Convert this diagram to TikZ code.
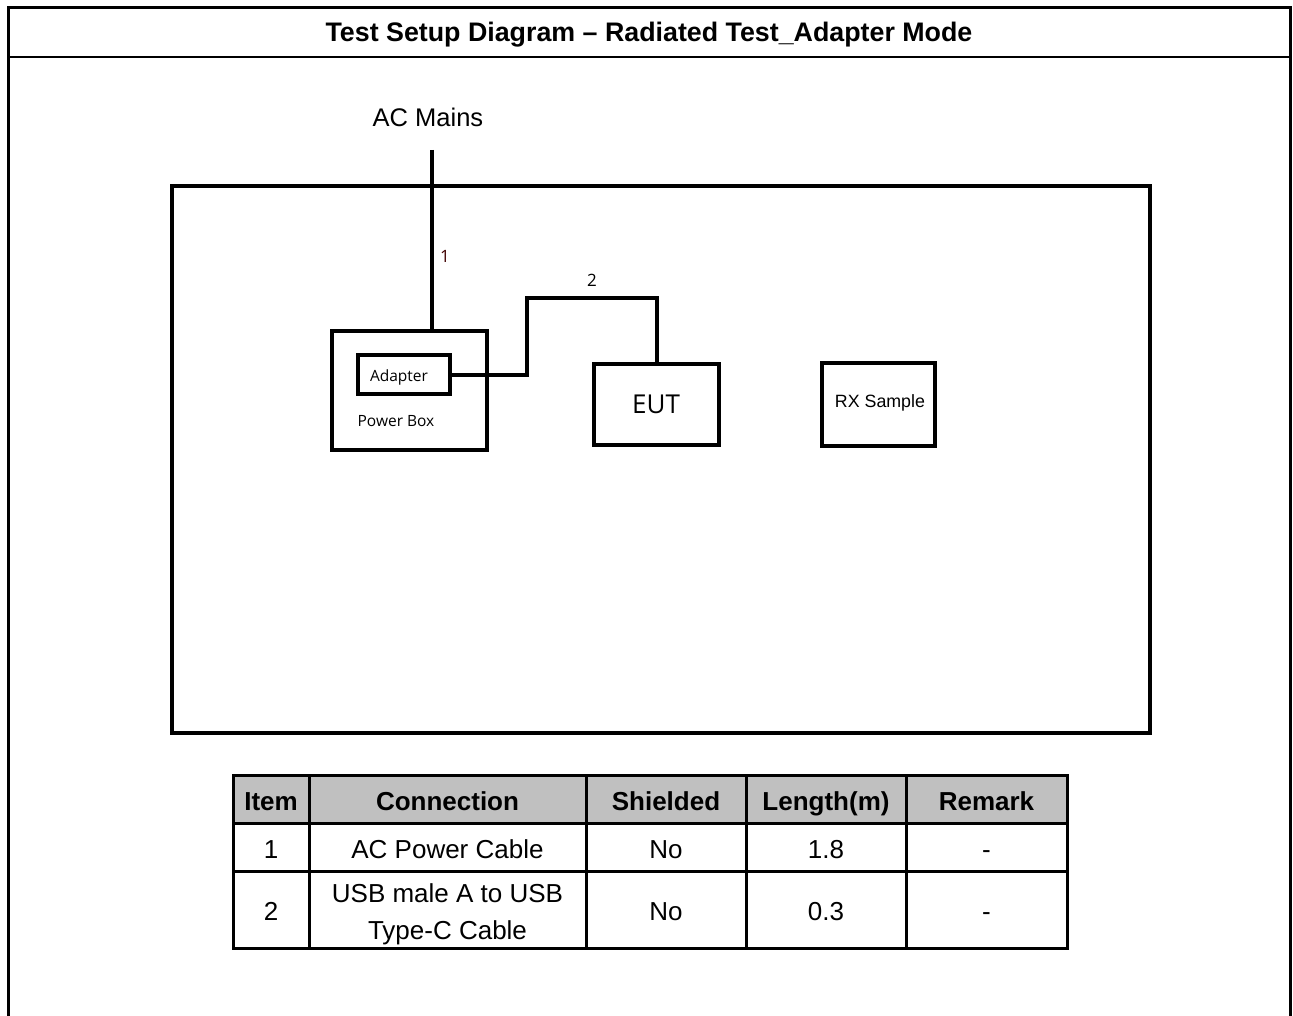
\documentclass[tikz,border=0pt]{standalone}
\usepackage{fontspec}
\setmainfont{Liberation Sans}
\newfontfamily\segoe{Open Sans}
\usetikzlibrary{positioning}
\definecolor{hdrgray}{HTML}{C0C0C0}
\definecolor{lblbrown}{HTML}{400000}
\tikzset{
  frameline/.style={line width=3pt, line cap=rect},
  box/.style={draw=black, line width=4pt, inner sep=0pt},
  cable/.style={line width=4pt},
  cell/.style={draw=black, line width=3pt, inner sep=0pt},
  hdrcell/.style={cell, fill=hdrgray},
  hdr/.style={anchor=base, inner sep=0pt, font=\fontsize{26}{30}\selectfont\bfseries},
  body/.style={anchor=base, inner sep=0pt, font=\fontsize{26}{30}\selectfont},
  small/.style={font=\segoe\fontsize{15.5}{18}\selectfont},
}
\begin{document}
\begin{tikzpicture}[x=1pt,y=-1pt]
\useasboundingbox (0,0) rectangle (1293,1016);
% outer frame
\coordinate (tl) at (8,8);
\coordinate (tr) at (1290,8);
\coordinate (bl) at (8,1016);
\coordinate (br) at (1290,1016);
\draw[frameline] (bl) -- (tl) -- (tr) -- (br);
\coordinate (sl) at (8,57);
\coordinate (sr) at (1290,57);
\draw[line width=2pt] (sl) -- (sr);
\node[anchor=base, inner sep=0pt, font=\fontsize{26.8}{30}\selectfont\bfseries] (title) at (649,42) {Test Setup Diagram – Radiated Test\_Adapter Mode};
% chamber box
\node[box, minimum width=978pt, minimum height=547pt] (room) at (661,459.5) {};
% AC mains
\node[anchor=base, inner sep=0pt, font=\fontsize{25.5}{30}\selectfont] (acmains) at (428,127) {AC Mains};
\coordinate (acm) at (432,150);
% power box
\node[box, minimum width=155pt, minimum height=119pt] (pbox) at (409.5,390.5) {};
\node[box, minimum width=92pt, minimum height=39pt] (adapter) at (404,374.5) {};
\node[small] (adaptertxt) at (399,377) {Adapter};
\node[small] (pboxtxt) at (396,421) {Power Box};
% EUT
\node[box, minimum width=125pt, minimum height=81pt] (eut) at (656.5,404.5) {};
\node[anchor=base, inner sep=0pt, font=\segoe\fontsize{26}{30}\selectfont] (euttxt) at (656,413) {EUT};
% RX sample
\node[box, minimum width=113pt, minimum height=83pt] (rx) at (878.5,404.5) {};
\node[anchor=base, inner sep=0pt, font=\fontsize{17.8}{20}\selectfont] (rxtxt) at (880,407.5) {RX Sample};
% cables
\draw[cable] (acm) -- (acm |- pbox.north);
\node[small, font=\segoe\fontsize{17}{20}\selectfont, text=lblbrown] (lbl1) at (445,256) {1};
\coordinate (c2a) at (527,374.5);
\coordinate (c2b) at (527,298);
\coordinate (c2c) at (657,298);
\draw[cable] (adapter.east) -- (c2a) -- (c2b) -- (c2c) -- (c2c |- eut.north);
\node[small, font=\segoe\fontsize{17}{20}\selectfont] (lbl2) at (592,280) {2};
% table cells
\node[hdrcell, minimum width=76pt, minimum height=48pt] (h1) at (271,799) {};
\node[hdrcell, minimum width=277pt, minimum height=48pt] (h2) at (447.5,799) {};
\node[hdrcell, minimum width=160pt, minimum height=48pt] (h3) at (666,799) {};
\node[hdrcell, minimum width=160pt, minimum height=48pt] (h4) at (826,799) {};
\node[hdrcell, minimum width=161pt, minimum height=48pt] (h5) at (986.5,799) {};
\node[cell, minimum width=76pt, minimum height=48pt] (a1) at (271,847) {};
\node[cell, minimum width=277pt, minimum height=48pt] (a2) at (447.5,847) {};
\node[cell, minimum width=160pt, minimum height=48pt] (a3) at (666,847) {};
\node[cell, minimum width=160pt, minimum height=48pt] (a4) at (826,847) {};
\node[cell, minimum width=161pt, minimum height=48pt] (a5) at (986.5,847) {};
\node[cell, minimum width=76pt, minimum height=77pt] (b1) at (271,909.5) {};
\node[cell, minimum width=277pt, minimum height=77pt] (b2) at (447.5,909.5) {};
\node[cell, minimum width=160pt, minimum height=77pt] (b3) at (666,909.5) {};
\node[cell, minimum width=160pt, minimum height=77pt] (b4) at (826,909.5) {};
\node[cell, minimum width=161pt, minimum height=77pt] (b5) at (986.5,909.5) {};
% table text
\node[hdr] (th1) at (271,810) {Item};
\node[hdr] (th2) at (447.5,810) {Connection};
\node[hdr] (th3) at (666,810) {Shielded};
\node[hdr] (th4) at (826,810) {Length(m)};
\node[hdr] (th5) at (986.5,810) {Remark};
\node[body] (ta1) at (271,858) {1};
\node[body] (ta2) at (447.5,858) {AC Power Cable};
\node[body] (ta3) at (666,858) {No};
\node[body] (ta4) at (826,858) {1.8};
\node[body] (ta5) at (986.5,858) {-};
\node[body] (tb1) at (271,920) {2};
\node[body] (tb2a) at (447.5,902) {USB male A to USB};
\node[body] (tb2b) at (447.5,939) {Type-C Cable};
\node[body] (tb3) at (666,920) {No};
\node[body] (tb4) at (826,920) {0.3};
\node[body] (tb5) at (986.5,920) {-};
\end{tikzpicture}
\end{document}
